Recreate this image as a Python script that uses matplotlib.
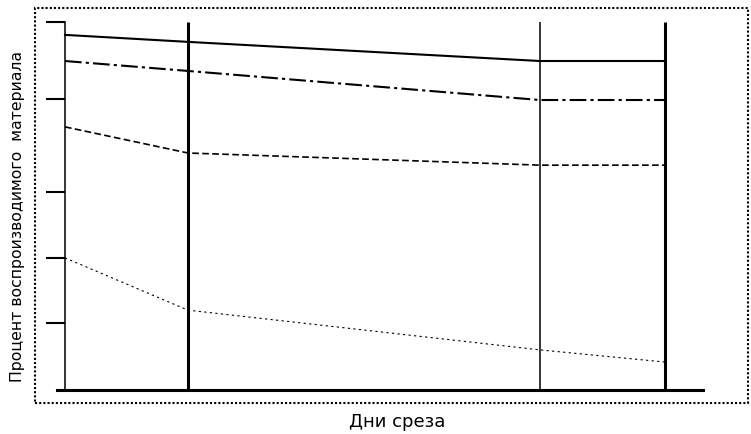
import matplotlib
matplotlib.use("Agg")
import matplotlib.pyplot as plt
from matplotlib.patches import Rectangle

# days of cut (positions)
days = [0, 1.025, 3.958, 5]
# percent of reproducible material
solid_vals = [96.5, 94.6, 89.4, 89.4]
dashdot_vals = [89.4, 86.7, 78.8, 78.8]
dashed_vals = [71.5, 64.4, 61.1, 61.1]
dotted_vals = [35.9, 21.7, 10.9, 7.6]
ytick_vals = [18.2, 35.9, 53.8, 79.1, 100]

W, H = 751, 435
fig = plt.figure(figsize=(W / 100, H / 100), dpi=100)
ax = fig.add_axes([57 / W, 44 / H, (703 - 57) / W, 368 / H])

ax.plot(days, solid_vals, color="black", lw=1.5, ls="-")
ax.plot(days, dashdot_vals, color="black", lw=1.5, ls=(0, (8, 2, 1.5, 2)))
ax.plot(days, dashed_vals, color="black", lw=1.2, ls=(0, (4, 2)))
ax.plot(days, dotted_vals, color="black", lw=0.8, ls=(0, (2, 3)))

# vertical day markers
ax.vlines([days[1], days[3]], 0, 100, color="black", lw=2.2)
ax.vlines([days[2]], 0, 100, color="black", lw=1.1)

ax.set_xlim(-0.0667, 5.317)
ax.set_ylim(0, 100)

for s in ["top", "right"]:
    ax.spines[s].set_visible(False)
ax.spines["left"].set_position(("data", 0))
ax.spines["left"].set_linewidth(1.1)
ax.spines["bottom"].set_linewidth(2.2)
ax.set_xticks([])
ax.set_yticks(ytick_vals)
ax.set_yticklabels([])
ax.tick_params(axis="y", direction="out", length=14, width=1.5, color="black")

fig.text(18 / W, 1 - 217 / H, "Процент воспроизводимого  материала",
         rotation=90, ha="center", va="center", fontsize=11.3, family="DejaVu Sans")
fig.text(397 / W, 1 - 422 / H, "Дни среза", ha="center", va="center",
         fontsize=13, family="DejaVu Sans")

# dotted frame around the whole chart
fig.patches.append(Rectangle((35 / W, 1 - 404 / H), (748 - 35) / W, (404 - 9) / H,
                             transform=fig.transFigure, fill=False,
                             ls=(0, (1, 1)), lw=1.5, ec="black"))

fig.savefig("out.png", dpi=100)
